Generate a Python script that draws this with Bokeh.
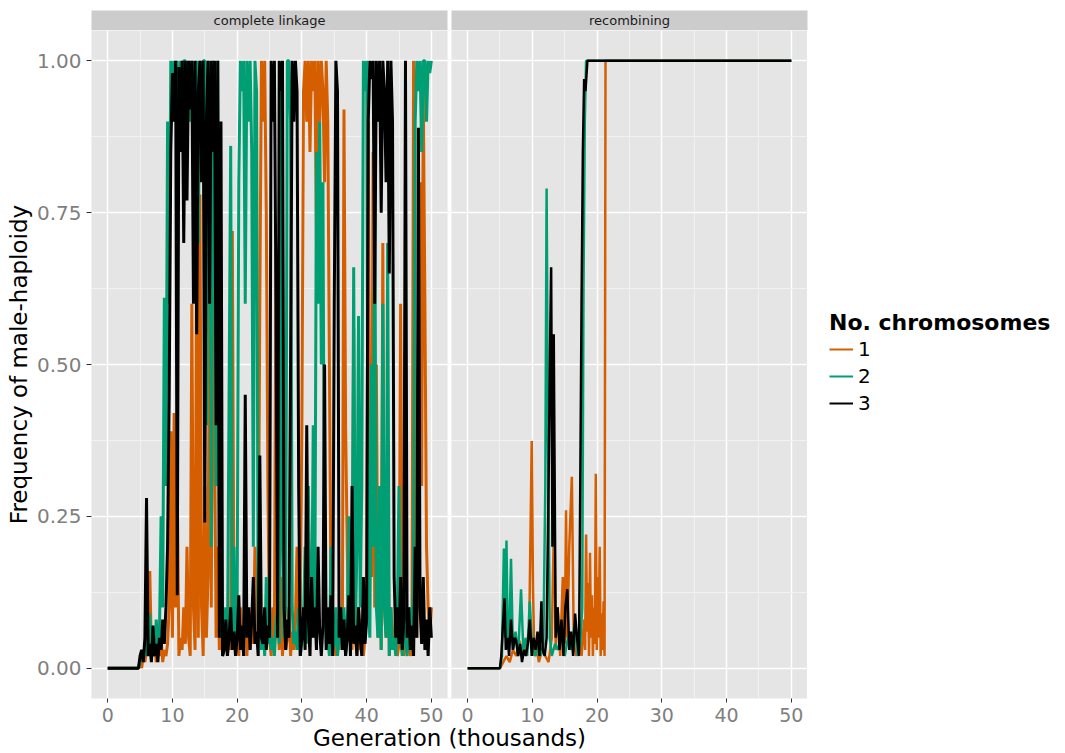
import numpy as np
from bokeh.plotting import figure
from bokeh.layouts import row, column
from bokeh.models import (Range1d, FixedTicker, NumeralTickFormatter, Label,
                          Legend, LegendItem, ColumnDataSource, BoxAnnotation)
from bokeh.embed import file_html
from bokeh.resources import INLINE

# ---------------- data ----------------
GEN_STEP = 0.25  # thousand generations between samples (complete linkage panel)

# complete linkage, 1 chromosome
CL_1 = [0, 0, 0, 0, 0, 0, 0, 0, 0, 0, 0, 0, 0, 0, 0, 0, 0, 0, 0, 0,
        0.01, 0.00, 0.02, 0.01,  0.03, 0.02, 0.16, 0.03,  0.02, 0.04, 0.01, 0.03,
        0.02, 0.05, 0.01, 0.03,  0.02, 0.04, 0.10, 0.39,  0.05, 0.42, 0.10, 0.30,
        0.02, 0.05, 0.03, 0.10,  0.04, 0.20, 0.05, 0.02,  0.60, 0.10, 0.03, 0.75,
        0.05, 0.78, 0.10, 0.02,  0.30, 0.05, 0.15, 0.64,  0.10, 0.62, 0.40, 0.05,
        0.20, 0.03, 0.10, 0.02,  0.05, 0.08, 0.02, 0.10,  0.03, 0.72, 0.10, 0.04,
        0.06, 0.02, 0.10, 0.03,  0.05, 0.15, 0.02, 0.08,  0.03, 0.10, 0.04, 0.20,
        0.05, 0.10, 0.60, 1.00,  0.90, 1.00, 0.75, 0.30,  0.05, 0.02, 0.10, 0.04,
        0.69, 0.10, 0.03, 0.15,  0.02, 0.08, 0.03, 0.05,  0.10, 0.02, 0.06, 0.03,
        0.08, 0.20, 0.05, 0.10,  0.40, 0.95, 1.00, 0.90,  1.00, 0.85, 1.00, 0.95,
        1.00, 0.70, 1.00, 0.90,  1.00, 0.95, 0.80, 1.00,  0.90, 0.50, 0.10, 0.03,
        0.05, 0.02, 0.08, 0.03,  0.10, 0.05, 0.92, 0.40,  0.20, 0.05, 0.10, 0.03,
        0.56, 0.05, 0.02, 0.10,  0.03, 0.08, 0.02, 0.05,  0.10, 0.90, 0.30, 0.15,
        0.85, 0.10, 0.50, 0.05,  0.20, 0.03, 0.70, 0.10,  0.05, 0.30, 0.02, 0.10,
        0.03, 0.05, 0.10, 0.02,  0.04, 0.60, 0.05, 0.02,  0.10, 0.03, 0.05, 0.02,
        0.04, 1.00, 0.20, 0.05,  0.50, 0.80, 0.30, 0.95,  0.60, 0.20, 0.10, 0.05,
        0.10]

# complete linkage, 2 chromosomes
CL_2 = [0, 0, 0, 0, 0, 0, 0, 0, 0, 0, 0, 0, 0, 0, 0, 0, 0, 0, 0, 0,
        0.01, 0.02, 0.03, 0.02,  0.05, 0.02, 0.09, 0.03,  0.04, 0.02, 0.08, 0.03,
        0.06, 0.25, 0.10, 0.61,  0.30, 0.90, 0.60, 1.00,  0.95, 1.00, 0.90, 1.00,
        0.85, 1.00, 0.93, 1.00,  1.00, 0.97, 1.00, 0.90,  1.00, 0.92, 0.98, 1.00,
        0.70, 1.00, 0.95, 1.00,  1.00, 0.40, 1.00, 0.90,  0.20, 1.00, 0.85, 0.30,
        1.00, 0.20, 0.05, 0.10,  0.03, 0.10, 0.02, 0.45,  0.86, 0.05, 0.20, 0.04,
        0.10, 0.80, 1.00, 0.95,  1.00, 0.60, 1.00, 0.90,  1.00, 0.85, 0.20, 1.00,
        0.95, 0.05, 0.10, 0.03,  0.08, 0.02, 0.15, 0.04,  0.10, 0.03, 0.05, 0.02,
        0.07, 0.10, 0.04, 0.95,  0.20, 0.05, 0.10, 1.00,  1.00, 0.90, 0.10, 0.04,
        0.06, 0.03, 0.10, 0.02,  0.05, 0.08, 0.20, 0.04,  0.30, 0.10, 0.05, 0.40,
        0.10, 0.85, 0.60, 0.90,  0.50, 0.80, 0.10, 0.04,  0.05, 0.02, 0.20, 0.03,
        0.04, 0.10, 0.02, 0.05,  0.08, 0.03, 0.10, 0.02,  0.06, 0.25, 0.05, 0.10,
        0.66, 0.05, 0.20, 0.58,  0.10, 0.30, 1.00, 0.95,  1.00, 0.10, 0.05, 0.50,
        0.20, 0.80, 0.10, 0.05,  0.30, 0.03, 0.60, 0.10,  0.05, 0.70, 0.02, 0.10,
        0.03, 0.05, 0.02, 0.10,  0.30, 0.05, 0.02, 0.10,  0.04, 0.02, 0.05, 0.10,
        0.03, 0.20, 0.90, 1.00,  0.95, 1.00, 0.85, 1.00,  1.00, 0.90, 1.00, 0.98,
        1.00]

# complete linkage, 3 chromosomes
CL_3 = [0, 0, 0, 0, 0, 0, 0, 0, 0, 0, 0, 0, 0, 0, 0, 0, 0, 0, 0, 0,
        0.02, 0.03, 0.01, 0.05,  0.28, 0.02, 0.04, 0.01,  0.07, 0.02, 0.04, 0.01,
        0.05, 0.03, 0.08, 0.04,  0.10, 0.20, 0.45, 0.85,  0.98, 0.90, 1.00, 0.12,
        0.99, 0.85, 1.00, 0.70,  1.00, 0.77, 1.00, 0.92,  1.00, 0.60, 1.00, 0.55,
        0.95, 1.00, 0.80, 1.00,  0.24, 0.90, 1.00, 0.60,  1.00, 0.85, 1.00, 0.40,
        1.00, 0.05, 0.90, 0.02,  0.03, 0.08, 0.02, 0.05,  0.10, 0.03, 0.06, 0.02,
        0.05, 0.12, 0.03, 0.07,  0.02, 0.45, 0.05, 0.10,  0.03, 0.08, 0.15, 0.04,
        0.06, 0.02, 0.35, 0.05,  0.04, 0.10, 0.03, 0.07,  0.05, 1.00, 0.90, 1.00,
        0.60, 0.05, 1.00, 0.95,  1.00, 0.10, 0.03, 0.08,  0.05, 0.50, 1.00, 0.90,
        1.00, 0.95, 0.30, 0.02,  0.05, 0.10, 0.03, 0.40,  0.08, 0.02, 0.15, 0.05,
        0.10, 0.03, 0.20, 0.06,  0.02, 0.07, 0.50, 0.03,  0.10, 0.04, 0.12, 0.02,
        0.60, 1.00, 0.95, 0.05,  0.10, 0.03, 0.08, 0.02,  0.05, 0.12, 0.02, 0.30,
        0.04, 0.07, 0.02, 0.10,  0.05, 0.02, 0.15, 0.04,  0.08, 0.90, 1.00, 0.97,
        1.00, 0.60, 1.00, 0.90,  1.00, 0.75, 1.00, 0.95,  0.80, 1.00, 0.65, 1.00,
        0.90, 0.15, 0.05, 0.10,  0.04, 0.15, 0.03, 0.08,  1.00, 0.05, 0.10, 0.03,
        0.07, 0.02, 0.20, 0.05,  0.89, 0.10, 0.04, 0.15,  0.03, 0.08, 0.02, 0.10,
        0.05]

# recombining panel: (generation in thousands, frequency)
RC_1_GEN = [0, 5, 5.5, 6, 6.5, 7, 7.5, 8, 8.5, 9,
            9.5, 9.9, 10.1, 10.3, 10.6, 11, 11.5, 12, 12.5, 13,
            13.4, 13.6, 13.9, 14.3, 14.7, 15, 15.2, 15.4, 15.7, 16.1,
            16.4, 16.8, 17.2, 17.6, 18.0, 18.15, 18.3, 18.45, 18.6, 18.75,
            18.9, 19.05, 19.2, 19.35, 19.5, 19.65, 19.8, 19.95, 20.1, 20.25,
            20.4, 20.55, 20.7, 20.85, 21.0, 21.15, 21.3, 50]
RC_1 = [0, 0, 0.01, 0.02, 0.01, 0.03, 0.02, 0.045, 0.02, 0.03,
        0.05, 0.374, 0.13, 0.02, 0.04, 0.01, 0.03, 0.02, 0.01, 0.05,
        0.27, 0.03, 0.10, 0.02, 0.15, 0.04, 0.26, 0.05, 0.20, 0.315,
        0.04, 0.02, 0.06, 0.02, 0.08, 0.03, 0.22, 0.06, 0.14, 0.02,
        0.19, 0.05, 0.12, 0.02, 0.10, 0.04, 0.32, 0.03, 0.15, 0.05,
        0.20, 0.02, 0.09, 0.03, 0.11, 0.02, 1.0, 1.0]

RC_2_GEN = [0, 5, 5.3, 5.6, 5.8, 6.0, 6.2, 6.5, 6.7, 7.0,
            7.4, 7.8, 8.25, 8.6, 9.0, 9.2, 9.6, 10.0, 10.5, 10.9,
            11.3, 11.7, 12.0, 12.2, 12.4, 12.7, 13.0, 13.5, 14.0, 14.5,
            15.0, 15.5, 16.0, 16.5, 17.0, 17.4, 17.7, 17.9, 18.1, 18.3, 50]
RC_2 = [0, 0, 0.02, 0.197, 0.05, 0.21, 0.04, 0.08, 0.18, 0.03,
        0.06, 0.02, 0.13, 0.03, 0.05, 0.02, 0.11, 0.03, 0.02, 0.055,
        0.02, 0.04, 0.30, 0.79, 0.40, 0.05, 0.02, 0.04, 0.03, 0.06,
        0.02, 0.05, 0.03, 0.07, 0.02, 0.04, 0.10, 0.63, 0.90, 1.00, 1.00]

RC_3_GEN = [0, 5, 5.2, 5.4, 5.7, 5.9, 6.2, 6.4, 6.7, 7.0,
            7.3, 7.5, 7.8, 8.1, 8.4, 8.7, 9.0, 9.3, 9.6, 9.9,
            10.2, 10.5, 10.8, 11.1, 11.4, 11.6, 11.9, 12.2, 12.5, 12.7,
            12.9, 13.1, 13.3, 13.6, 13.9, 14.2, 14.5, 14.8, 15.1, 15.4,
            15.7, 16.0, 16.3, 16.6, 16.9, 17.2, 17.4, 17.6, 17.8, 18.0,
            18.2, 18.5, 50]
RC_3 = [0, 0, 0.02, 0.06, 0.115, 0.03, 0.05, 0.02, 0.08, 0.03,
        0.05, 0.045, 0.02, 0.04, 0.01, 0.03, 0.02, 0.04, 0.08, 0.02,
        0.05, 0.03, 0.06, 0.02, 0.11, 0.03, 0.02, 0.05, 0.30, 0.50,
        0.66, 0.20, 0.55, 0.05, 0.10, 0.03, 0.08, 0.02, 0.10, 0.13,
        0.03, 0.06, 0.02, 0.09, 0.05, 0.02, 0.30, 0.60, 0.85, 0.97,
        0.95, 1.00, 1.00]

SERIES_LABELS = ["1", "2", "3"]
PANEL_LABELS = ["complete linkage", "recombining"]
X_TICKS = [0, 10, 20, 30, 40, 50]
X_MINOR = [5, 15, 25, 35, 45]
Y_TICKS = [0, 0.25, 0.5, 0.75, 1.0]
Y_MINOR = [0.125, 0.375, 0.625, 0.875]

COLORS = ["#D55E00", "#009E73", "#000000"]
FONT = "DejaVu Sans"
LW_CL = 3.0
LW_RC = 2.5

# ---------------- layout constants (facet geometry) ----------------
X_LO, X_HI = -2.5, 52.5           # each facet's x range (5% expansion)
GAP = 0.6                          # gap between facets, in x units (~4 px)
OFFSET = (X_HI - X_LO) + GAP       # shift of the second facet

cl_sources = [ColumnDataSource(dict(gen=np.arange(len(v)) * GEN_STEP, freq=v))
              for v in (CL_1, CL_2, CL_3)]
rc_sources = [ColumnDataSource(dict(gen=g, freq=v))
              for g, v in ((RC_1_GEN, RC_1), (RC_2_GEN, RC_2), (RC_3_GEN, RC_3))]

# ---------------- main figure (both facets share one frame) ----------------
p = figure(width=807, height=723,
           x_range=Range1d(X_LO, X_HI + OFFSET),
           y_range=Range1d(-0.05, 1.05),
           toolbar_location=None, output_backend="svg",
           min_border_left=91, min_border_right=0,
           min_border_top=0, min_border_bottom=55)
p.extra_x_ranges = {"rc": Range1d(X_LO - OFFSET, X_HI)}
p.background_fill_color = "#E5E5E5"
p.border_fill_color = "white"
p.outline_line_color = None

major_x = X_TICKS + [t + OFFSET for t in X_TICKS]
minor_x = X_MINOR + [t + OFFSET for t in X_MINOR]
xt = FixedTicker(ticks=major_x, minor_ticks=minor_x)
yt = FixedTicker(ticks=Y_TICKS, minor_ticks=Y_MINOR)
p.xaxis.ticker = xt
p.yaxis.ticker = yt
p.xgrid.ticker = xt
p.ygrid.ticker = yt
overrides = {float(t): str(t) for t in X_TICKS}
overrides.update({float(t + OFFSET): str(t) for t in X_TICKS})
p.xaxis.major_label_overrides = overrides
p.yaxis.formatter = NumeralTickFormatter(format="0.00")

p.grid.grid_line_color = "white"
p.grid.grid_line_width = 1.5
p.grid.minor_grid_line_color = "#F2F2F2"
p.grid.minor_grid_line_width = 1

for ax in p.xaxis + p.yaxis:
    ax.axis_line_color = None
    ax.major_tick_line_color = "#333333"
    ax.major_tick_out = 5
    ax.major_tick_in = 0
    ax.minor_tick_line_color = None
    ax.major_label_text_color = "#7F7F7F"
    ax.major_label_text_font = FONT
    ax.major_label_text_font_size = "20px"
    ax.axis_label_text_font = FONT
    ax.axis_label_text_font_size = "23px"
    ax.axis_label_text_font_style = "normal"
    ax.axis_label_text_color = "black"

p.xaxis.major_tick_out = 4
p.xaxis.major_label_standoff = 5
p.xaxis.major_label_text_font_size = "19px"
p.xaxis.axis_label = "Generation (thousands)"
p.xaxis.axis_label_standoff = 0
p.yaxis.axis_label = "Frequency of male-haploidy"
p.yaxis.axis_label_standoff = 2
p.yaxis.major_label_standoff = 5

# complete linkage facet
for src, col in zip(cl_sources, COLORS):
    p.line("gen", "freq", source=src, line_color=col, line_width=LW_CL)

# recombining facet
for src, col in zip(rc_sources, COLORS):
    p.line("gen", "freq", source=src, line_color=col, line_width=LW_RC,
           x_range_name="rc")

# white gap between the two facets
p.add_layout(BoxAnnotation(left=X_HI, right=X_LO + OFFSET, fill_color="white",
                           fill_alpha=1.0, line_color=None, level="overlay"))

# ---------------- legend (its own panel to the right) ----------------
lg = figure(width=258, height=723, x_range=Range1d(-20, -10), y_range=Range1d(0, 1),
            toolbar_location=None, output_backend="svg",
            x_axis_type=None, y_axis_type=None,
            min_border_left=0, min_border_right=0, min_border_top=0, min_border_bottom=0)
lg.background_fill_color = "white"
lg.border_fill_color = "white"
lg.outline_line_color = None
leg_renderers = [lg.line("gen", "freq", source=src, line_color=col, line_width=2)
                 for src, col in zip(rc_sources, COLORS)]

legend = Legend(items=[LegendItem(label=lab, renderers=[r])
                       for lab, r in zip(SERIES_LABELS, leg_renderers)],
                title="No. chromosomes", location=(22, 283))
legend.title_text_font = FONT
legend.title_text_font_style = "bold"
legend.title_text_font_size = "22px"
legend.title_text_color = "black"
legend.title_standoff = 2
legend.label_text_font = FONT
legend.label_text_font_size = "20px"
legend.label_text_color = "black"
legend.glyph_width = 24
legend.glyph_height = 24
legend.label_height = 24
legend.label_standoff = 5
legend.spacing = 3
legend.padding = 0
legend.margin = 0
legend.border_line_color = None
legend.background_fill_alpha = 0
lg.add_layout(legend, "center")


# ---------------- facet strips ----------------
def strip(text, width, left, right):
    s = figure(width=width, height=30, x_range=Range1d(0, 1), y_range=Range1d(0, 1),
               toolbar_location=None, output_backend="svg",
               x_axis_type=None, y_axis_type=None,
               min_border_left=left, min_border_right=right,
               min_border_top=10, min_border_bottom=0)
    s.background_fill_color = "#CCCCCC"
    s.border_fill_color = "white"
    s.outline_line_color = None
    s.add_layout(Label(x=0.5, y=0.5, text=text, text_align="center",
                       text_baseline="middle", text_font=FONT,
                       text_font_size="13px", text_color="#1A1A1A"))
    return s


s1 = strip(PANEL_LABELS[0], 449, 91, 2)
s2 = strip(PANEL_LABELS[1], 616, 2, 258)

layout = column(row(s1, s2), row(p, lg))
open("out.html", "w").write(file_html(layout, INLINE))
